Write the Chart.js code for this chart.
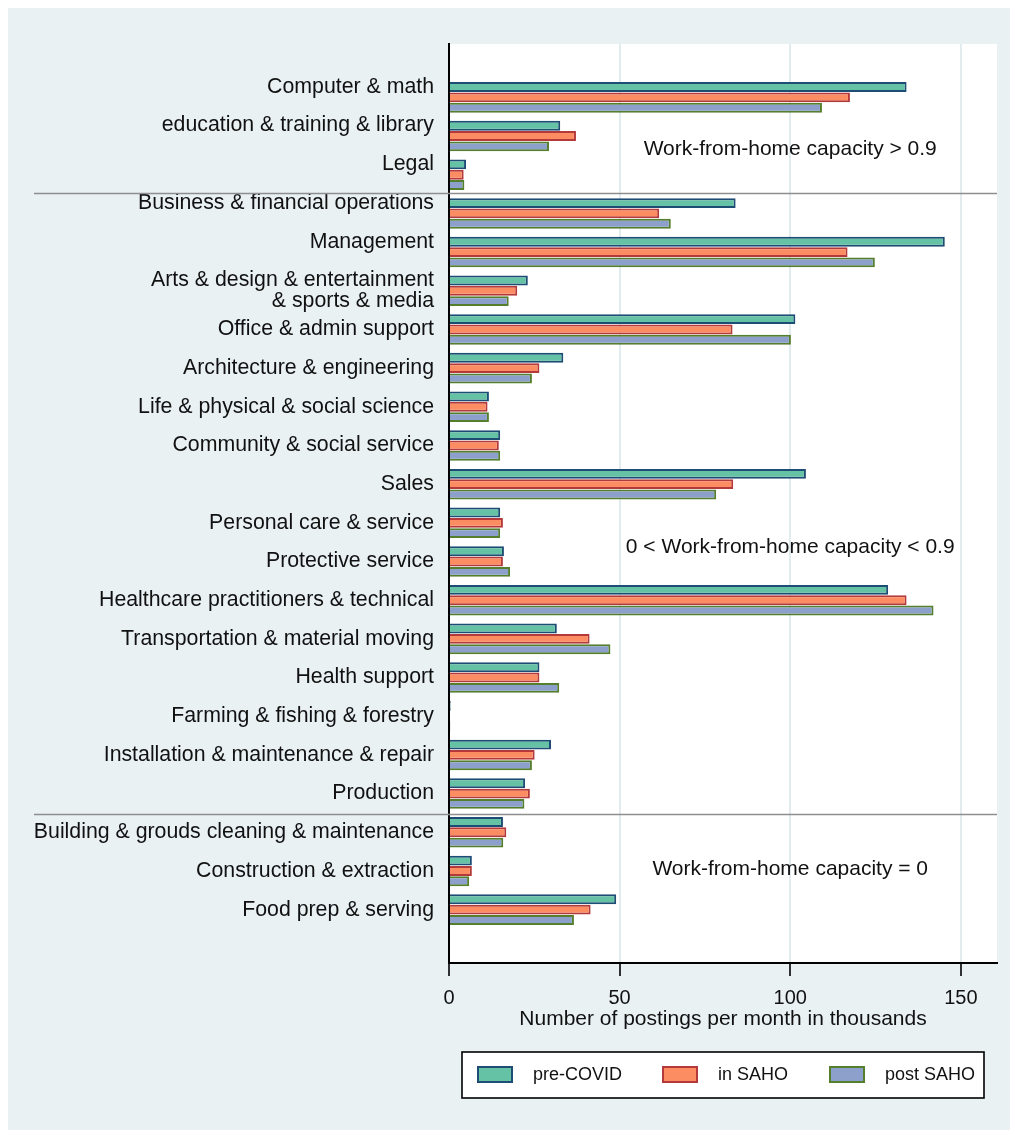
<!DOCTYPE html>
<html>
<head>
<meta charset="utf-8">
<script src="https://cdn.jsdelivr.net/npm/chart.js@4.4.1/dist/chart.umd.min.js"></script>
<style>
  body { margin: 0; background: #ffffff; }
  canvas { display: block; }
</style>
</head>
<body>
<canvas id="postingsChart" width="1018" height="1138"></canvas>
<script>
// occupations, top to bottom
const categories = [
  "Computer & math",
  "education & training & library",
  "Legal",
  "Business & financial operations",
  "Management",
  ["Arts & design & entertainment", "& sports & media"],
  "Office & admin support",
  "Architecture & engineering",
  "Life & physical & social science",
  "Community & social service",
  "Sales",
  "Personal care & service",
  "Protective service",
  "Healthcare practitioners & technical",
  "Transportation & material moving",
  "Health support",
  "Farming & fishing & forestry",
  "Installation & maintenance & repair",
  "Production",
  "Building & grouds cleaning & maintenance",
  "Construction & extraction",
  "Food prep & serving"
];

// postings per month, thousands
const preCovid = [134.1, 32.6, 5.0, 84.0, 145.3, 23.1, 101.5, 33.5, 11.7, 15.0, 104.6, 15.0, 16.1, 128.7, 31.6, 26.5, 0.5, 29.9, 22.3, 15.8, 6.7, 49.0];
const inSaho   = [117.5, 37.2, 4.3, 61.6, 116.8, 20.0, 83.1, 26.5, 11.3, 14.6, 83.3, 15.8, 15.8, 134.1, 41.2, 26.5, 0.3, 25.1, 23.7, 16.8, 6.7, 41.5];
const postSaho = [109.3, 29.3, 4.5, 65.0, 124.8, 17.5, 100.2, 24.3, 11.7, 15.0, 78.3, 15.0, 17.9, 142.0, 47.3, 32.3, 0.4, 24.3, 22.1, 15.9, 5.9, 36.6];

const seriesNames = ["pre-COVID", "in SAHO", "post SAHO"];
const xTicks = [0, 50, 100, 150];

// group boundaries and the text written in each group
const groupBreaks = [2.46, 18.52];
const groupNotes = ["Work-from-home capacity > 0.9", "0 < Work-from-home capacity < 0.9", "Work-from-home capacity = 0"];

const FONT = "'Liberation Sans', Arial, sans-serif";
const ctx = document.getElementById("postingsChart").getContext("2d");

function toPoints(values) {
  return values.map((v, i) => ({ x: v, y: i }));
}

// background panels, group lines, notes and the boxed legend
const framePlugin = {
  id: "frame",
  beforeDraw(chart) {
    const c = chart.ctx;
    const a = chart.chartArea;
    c.save();
    c.fillStyle = "#e9f1f3";
    c.fillRect(8, 8, 1002, 1122);
    c.fillStyle = "#ffffff";
    c.fillRect(a.left, a.top, a.right - a.left, a.bottom - a.top);
    c.restore();
  },
  afterDraw(chart) {
    const c = chart.ctx;
    const a = chart.chartArea;
    const xs = chart.scales.x;
    const ys = chart.scales.y;
    c.save();

    // separators between capacity groups
    c.strokeStyle = "#8e8e8e";
    c.lineWidth = 1.4;
    groupBreaks.forEach(b => {
      const y = Math.round(ys.getPixelForValue(b)) + 0.5;
      c.beginPath();
      c.moveTo(34, y);
      c.lineTo(a.right, y);
      c.stroke();
    });

    // group notes
    const noteRows = [1.33, 11.62, 19.95];
    c.fillStyle = "#111111";
    c.font = "21px " + FONT;
    c.textAlign = "center";
    c.textBaseline = "middle";
    groupNotes.forEach((t, i) => {
      c.fillText(t, xs.getPixelForValue(100), ys.getPixelForValue(noteRows[i]));
    });

    // legend
    c.fillStyle = "#ffffff";
    c.fillRect(462, 1052, 522, 46);
    c.strokeStyle = "#000000";
    c.lineWidth = 1.6;
    c.strokeRect(462, 1052, 522, 46);
    const swatchX = [477, 662, 829];
    const textX = [533, 718, 885];
    c.font = "18px " + FONT;
    c.textAlign = "left";
    chart.data.datasets.forEach((ds, i) => {
      c.fillStyle = ds.backgroundColor;
      c.fillRect(swatchX[i], 1066, 36, 17);
      c.strokeStyle = ds.borderColor;
      c.lineWidth = 2;
      c.strokeRect(swatchX[i] + 1, 1067, 34, 15);
      c.fillStyle = "#111111";
      c.fillText(ds.label, textX[i], 1075);
    });
    c.restore();
  }
};

new Chart(ctx, {
  type: "bar",
  data: {
    datasets: [
      { label: seriesNames[0], data: toPoints(preCovid), backgroundColor: "#66c2a5", borderColor: "#1d4c74" },
      { label: seriesNames[1], data: toPoints(inSaho), backgroundColor: "#fc8d62", borderColor: "#b3393b" },
      { label: seriesNames[2], data: toPoints(postSaho), backgroundColor: "#8da0cb", borderColor: "#547f2c" }
    ]
  },
  options: {
    responsive: false,
    animation: false,
    indexAxis: "y",
    layout: { padding: { top: 44, right: 21, bottom: 106, left: 0 } },
    datasets: {
      bar: {
        borderWidth: 2,
        categoryPercentage: 0.8,
        barPercentage: 0.96
      }
    },
    scales: {
      x: {
        type: "linear",
        min: 0,
        max: 160.6,
        afterBuildTicks: scale => { scale.ticks = xTicks.map(v => ({ value: v })); },
        afterFit: scale => { scale.height = 69; },
        grid: {
          color: ctx => (ctx.tick && ctx.tick.value === 0 ? "rgba(0,0,0,0)" : "#e2ebee"),
          lineWidth: 2,
          drawTicks: true,
          tickLength: 13,
          tickColor: "#000000",
          tickWidth: 1.6
        },
        border: { display: true, color: "#000000", width: 2 },
        ticks: {
          padding: 10,
          color: "#111111",
          font: { family: FONT, size: 20 },
          maxRotation: 0
        },
        title: {
          display: true,
          text: "Number of postings per month in thousands",
          color: "#111111",
          font: { family: FONT, size: 21 },
          padding: { top: 0, bottom: 0 }
        }
      },
      y: {
        type: "linear",
        reverse: true,
        offset: false,
        min: -1.38,
        max: 22.38,
        afterBuildTicks: scale => {
          scale.ticks = categories.map((c, i) => ({ value: i < 5 ? i - 0.27 : i }));
        },
        afterFit: scale => { scale.width = 449; },
        grid: { display: false, drawTicks: false, offset: false },
        border: { display: true, color: "#000000", width: 2 },
        ticks: {
          autoSkip: false,
          padding: 15,
          color: "#111111",
          font: { family: FONT, size: 21.3, lineHeight: 1.0 },
          callback: (value, index) => categories[index]
        }
      }
    },
    plugins: {
      legend: { display: false },
      tooltip: { enabled: false }
    }
  },
  plugins: [framePlugin]
});
</script>
</body>
</html>
